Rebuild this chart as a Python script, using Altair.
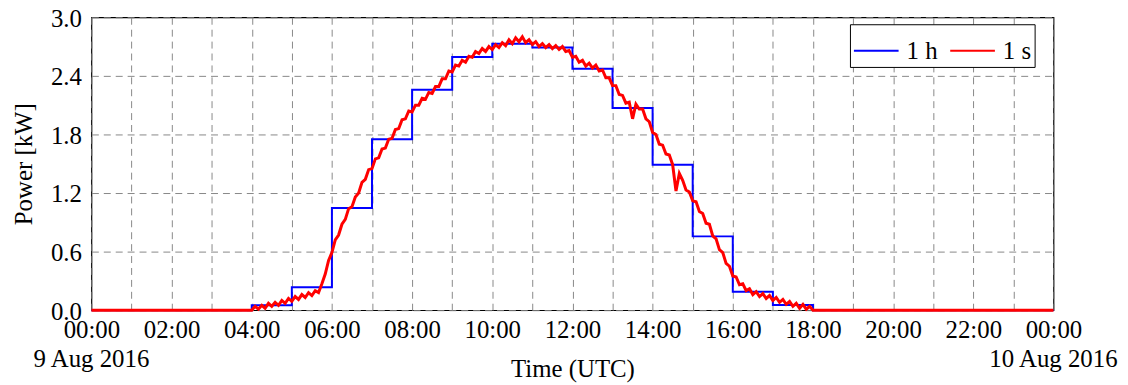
import altair as alt
import pandas as pd

# hourly averages (1 h), value at start of each hour 0..24
hour_steps = list(range(0, 25))
power_1h = [0, 0, 0, 0, 0.05, 0.234, 1.047, 1.75, 2.257, 2.593, 2.73, 2.69,
            2.474, 2.07, 1.49, 0.756, 0.19, 0.054, 0, 0, 0, 0, 0, 0, 0]

# 1 s data, read at 5-minute spacing from 04:00 to 18:00
power_1s_day = [
    0.00, 0.04, 0.01, 0.05, 0.02, 0.07, 0.04, 0.08, 0.05, 0.10, 0.07, 0.12,
    0.09, 0.14, 0.11, 0.16, 0.13, 0.18, 0.15, 0.20, 0.18, 0.27, 0.37, 0.51,
    0.59, 0.72, 0.77, 0.88, 0.93, 1.04, 1.06, 1.16, 1.20, 1.31, 1.34, 1.44,
    1.45, 1.55, 1.56, 1.65, 1.66, 1.75, 1.76, 1.85, 1.86, 1.95, 1.96, 2.04,
    2.03, 2.10, 2.10, 2.17, 2.16, 2.23, 2.22, 2.29, 2.29, 2.37, 2.37, 2.45,
    2.44, 2.51, 2.50, 2.56, 2.54, 2.60, 2.59, 2.65, 2.63, 2.68, 2.65, 2.70,
    2.67, 2.72, 2.69, 2.74, 2.71, 2.77, 2.73, 2.79, 2.75, 2.80, 2.74, 2.77,
    2.72, 2.75, 2.70, 2.73, 2.69, 2.72, 2.68, 2.71, 2.67, 2.70, 2.65, 2.66,
    2.59, 2.60, 2.54, 2.56, 2.50, 2.53, 2.48, 2.51, 2.45, 2.46, 2.38, 2.38,
    2.30, 2.30, 2.21, 2.20, 2.12, 2.13, 1.96, 2.11, 2.06, 2.06, 1.96, 1.93,
    1.82, 1.80, 1.70, 1.69, 1.60, 1.59, 1.49, 1.22, 1.40, 1.33, 1.23, 1.21,
    1.12, 1.11, 1.01, 0.99, 0.89, 0.88, 0.76, 0.73, 0.62, 0.59, 0.48, 0.45,
    0.35, 0.34, 0.26, 0.27, 0.20, 0.22, 0.16, 0.19, 0.14, 0.17, 0.12, 0.15,
    0.10, 0.13, 0.08, 0.11, 0.06, 0.09, 0.04, 0.07, 0.02, 0.06, 0.01, 0.04,
    0.00,
]
minutes_1s_day = list(range(4 * 60, 18 * 60 + 1, 5))

date_hours = [0, 24]
date_labels = ["9 Aug 2016", "10 Aug 2016"]

df_1h = pd.DataFrame({"hour": hour_steps, "power": power_1h, "series": "1 h"})
hours_1s = [0.0] + [m / 60 for m in minutes_1s_day] + [24.0]
vals_1s = [0.0] + power_1s_day + [0.0]
df_1s = pd.DataFrame({"hour": hours_1s, "power": vals_1s, "series": "1 s"})
df_dates = pd.DataFrame({"hour": date_hours, "label": date_labels})

FONT = "Liberation Serif"
FS = 25
W, H = 969, 295

x_scale = alt.Scale(domain=[0, 24], nice=False, zero=False)
y_scale = alt.Scale(domain=[0, 3.0], nice=False)
color = alt.Color(
    "series:N",
    scale=alt.Scale(domain=["1 h", "1 s"], range=["#0000ff", "#ff0000"]),
    legend=alt.Legend(
        title=None, orient="none", legendX=764, legendY=7, direction="horizontal",
        symbolType="stroke", symbolSize=2025, symbolStrokeWidth=2,
        labelFont=FONT, labelFontSize=FS, labelColor="black",
        strokeColor="black", fillColor="white", padding=3,
        columnPadding=8, labelOffset=7,
    ),
)

x_axis = alt.Axis(
    values=list(range(0, 25)),
    labelExpr="datum.value % 2 == 0 ? ((datum.value % 24) < 10 ? '0' : '') + (datum.value % 24) + ':00' : ''",
    title="Time (UTC)", titlePadding=14,
    grid=True, gridDash=[7, 5], gridColor="#888888", gridWidth=1,
    ticks=False, labelPadding=8, labelFlush=False, labelOverlap=False,
    domain=False,
)
y_axis = alt.Axis(
    values=[0, 0.6, 1.2, 1.8, 2.4, 3.0], format=".1f", title="Power [kW]",
    grid=True, gridDash=[7, 5], gridColor="#888888", gridWidth=1,
    ticks=False, labelPadding=10, labelOffset=1, domain=False, titlePadding=14,
)

base_x = alt.X("hour:Q", scale=x_scale, axis=x_axis)
base_y = alt.Y("power:Q", scale=y_scale, axis=y_axis)

line_1h = alt.Chart(df_1h).mark_line(interpolate="step-after", strokeWidth=2).encode(
    x=base_x, y=base_y, color=color
)
line_1s = alt.Chart(df_1s).mark_line(strokeWidth=3).encode(
    x=alt.X("hour:Q", scale=x_scale), y=alt.Y("power:Q", scale=y_scale), color=color
)
dates = alt.Chart(df_dates).mark_text(
    font=FONT, fontSize=FS, color="black", baseline="alphabetic", align="center"
).encode(x=alt.X("hour:Q", scale=x_scale), y=alt.value(352), text="label:N")

chart = (
    alt.layer(line_1h, line_1s, dates)
    .properties(
        width=W, height=H,
        autosize=alt.AutoSizeParams(type="none"),
        padding={"left": 84, "top": 8, "right": 67, "bottom": 74},
    )
    .configure_view(stroke="black", strokeWidth=1.2)
    .configure_axis(
        labelFont=FONT, labelFontSize=FS, labelColor="black",
        titleFont=FONT, titleFontSize=FS, titleColor="black", titleFontWeight="normal",
    )
)

chart.save("out.html", embed_options={"renderer": "svg", "actions": False})
